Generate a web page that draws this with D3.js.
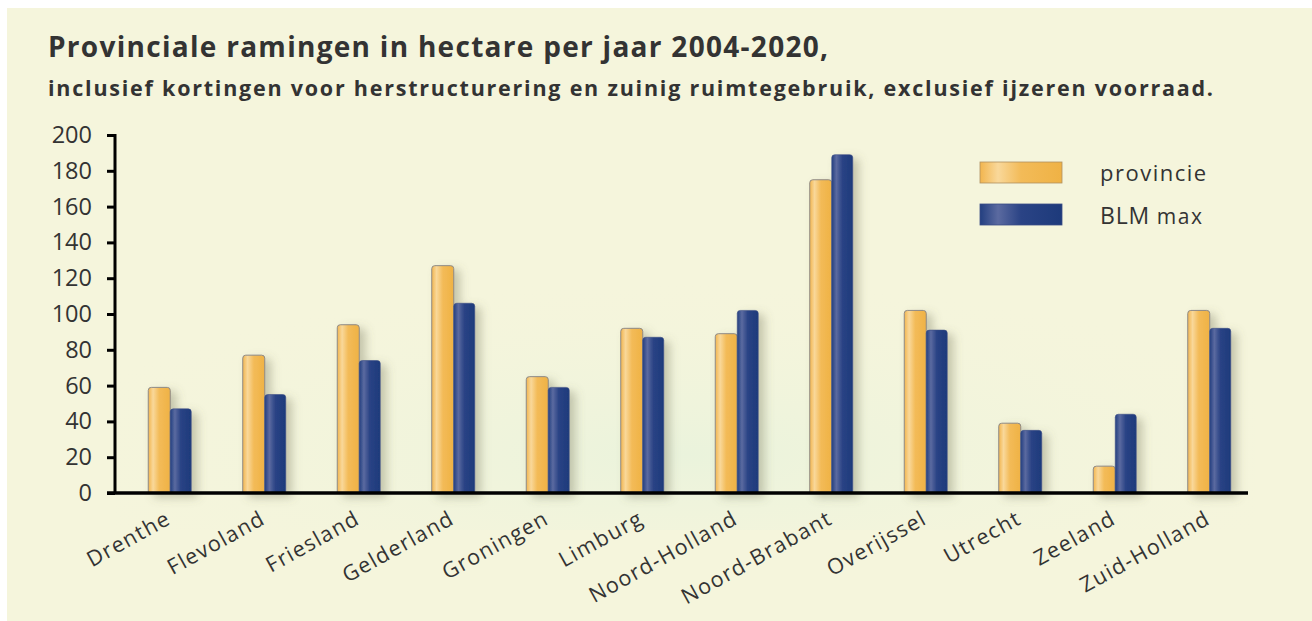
<!DOCTYPE html>
<html>
<head>
<meta charset="utf-8">
<script src="https://cdn.jsdelivr.net/npm/d3@7"></script>
<style>
  html, body { margin: 0; padding: 0; background: #fff; }
  svg { display: block; }
  text { font-family: "Open Sans", "Noto Sans", sans-serif; fill: #333; }
</style>
</head>
<body>
<svg id="chart" width="1312" height="621"></svg>
<script>
// data
const provinces = ["Drenthe", "Flevoland", "Friesland", "Gelderland", "Groningen", "Limburg",
  "Noord-Holland", "Noord-Brabant", "Overijssel", "Utrecht", "Zeeland", "Zuid-Holland"];
const provincie = [59, 77, 94, 127, 65, 92, 89, 175, 102, 39, 15, 102];
const blmMax = [47, 55, 74, 106, 59, 87, 102, 189, 91, 35, 44, 92];
const yTicks = [0, 20, 40, 60, 80, 100, 120, 140, 160, 180, 200];
const seriesNames = ["provincie", "BLM max"];

const svg = d3.select("#chart");
const width = 1312, height = 621;

// background panel
svg.append("rect")
  .attr("x", 7).attr("y", 8)
  .attr("width", width - 7).attr("height", height - 8)
  .attr("fill", "#f5f5dc");

const defs = svg.append("defs");

// faint greenish glow behind the bars
const glow = defs.append("radialGradient").attr("id", "g-glow")
  .attr("cx", "50%").attr("cy", "75%").attr("r", "60%");
glow.append("stop").attr("offset", "0%").attr("stop-color", "#eaf3dc").attr("stop-opacity", 1);
glow.append("stop").attr("offset", "100%").attr("stop-color", "#f5f5dc").attr("stop-opacity", 0);
svg.append("rect")
  .attr("x", 115).attr("y", 230).attr("width", 1140).attr("height", 300)
  .attr("fill", "url(#g-glow)");

// bar gradients: lighter streak on the left, like the original
const gradOrange = defs.append("linearGradient").attr("id", "g-orange");
gradOrange.append("stop").attr("offset", "0%").attr("stop-color", "#f2b54e");
gradOrange.append("stop").attr("offset", "22%").attr("stop-color", "#f9d89a");
gradOrange.append("stop").attr("offset", "50%").attr("stop-color", "#f3bb58");
gradOrange.append("stop").attr("offset", "100%").attr("stop-color", "#efb245");

const gradBlue = defs.append("linearGradient").attr("id", "g-blue");
gradBlue.append("stop").attr("offset", "0%").attr("stop-color", "#233f80");
gradBlue.append("stop").attr("offset", "22%").attr("stop-color", "#5b6aa0");
gradBlue.append("stop").attr("offset", "50%").attr("stop-color", "#2a4385");
gradBlue.append("stop").attr("offset", "100%").attr("stop-color", "#1d3a7b");

const shadow = defs.append("filter").attr("id", "shadow")
  .attr("x", "-50%").attr("y", "-20%").attr("width", "250%").attr("height", "140%");
shadow.append("feDropShadow")
  .attr("dx", 6).attr("dy", 4).attr("stdDeviation", 5)
  .attr("flood-color", "#6b6b50").attr("flood-opacity", 0.35);

// scales
const x = d3.scaleBand().domain(provinces).range([123, 1257]);
const y = d3.scaleLinear().domain([0, 200]).range([493, 135]);

// title
svg.append("text")
  .attr("x", 48).attr("y", 57)
  .attr("font-size", 28).attr("font-weight", 700)
  .attr("textLength", 780).attr("lengthAdjust", "spacing")
  .text("Provinciale ramingen in hectare per jaar 2004-2020,");
svg.append("text")
  .attr("x", 48).attr("y", 96)
  .attr("font-size", 21.5).attr("font-weight", 700)
  .attr("textLength", 1165).attr("lengthAdjust", "spacing")
  .text("inclusief kortingen voor herstructurering en zuinig ruimtegebruik, exclusief ijzeren voorraad.");

// bars
const barW = 21;
const groups = svg.append("g").selectAll("g")
  .data(provinces)
  .join("g")
  .attr("transform", d => `translate(${x(d) + x.bandwidth() / 2},0)`)
  .attr("filter", "url(#shadow)");

function barPath(x0, w, v) {
  const y0 = y(0), y1 = y(v), r = 3;
  return `M${x0},${y0}V${y1 + r}Q${x0},${y1} ${x0 + r},${y1}H${x0 + w - r}Q${x0 + w},${y1} ${x0 + w},${y1 + r}V${y0}Z`;
}

groups.append("path")
  .attr("d", (d, i) => barPath(-barW - 1, barW + 1, provincie[i]))
  .attr("fill", "url(#g-orange)")
  .attr("stroke", "#8e8a86").attr("stroke-width", 1);

groups.append("path")
  .attr("d", (d, i) => barPath(0, barW, blmMax[i]))
  .attr("fill", "url(#g-blue)")
  .attr("stroke", "#3a4d85").attr("stroke-width", 0.6);

// y axis
const yAxis = svg.append("g")
  .attr("transform", "translate(115,0)")
  .call(d3.axisLeft(y).tickValues(yTicks).tickSize(8).tickPadding(15));
yAxis.select(".domain").attr("stroke", "#000").attr("stroke-width", 3)
  .attr("d", `M0,${y(200) - 1}V${y(0)}`);
yAxis.selectAll(".tick line").attr("stroke", "#000").attr("stroke-width", 3);
yAxis.selectAll(".tick text")
  .attr("font-size", 23.5).attr("fill", "#333")
  .attr("font-family", "'Open Sans', sans-serif");

// x axis baseline
svg.append("line")
  .attr("x1", 107).attr("x2", 1248)
  .attr("y1", y(0)).attr("y2", y(0))
  .attr("stroke", "#000").attr("stroke-width", 3.5);

// x labels
svg.append("g").selectAll("text")
  .data(provinces)
  .join("text")
  .attr("text-anchor", "end")
  .attr("font-size", 21.5)
  .attr("letter-spacing", 1.3)
  .attr("transform", d => `translate(${x(d) + x.bandwidth() / 2 + 2},523) rotate(-29)`)
  .text(d => d);

// legend
const legend = svg.append("g").attr("transform", "translate(980,162)");
legend.selectAll("rect")
  .data(seriesNames)
  .join("rect")
  .attr("x", 0).attr("y", (d, i) => i * 42)
  .attr("width", 82).attr("height", 21)
  .attr("fill", (d, i) => i === 0 ? "url(#g-orange)" : "url(#g-blue)")
  .attr("stroke", (d, i) => i === 0 ? "#b09060" : "#3a4d85")
  .attr("stroke-width", 0.8);
legend.append("text")
  .attr("x", 120).attr("y", 19)
  .attr("font-size", 22).attr("letter-spacing", 1.5)
  .text(seriesNames[0]);
const blmText = legend.append("text")
  .attr("x", 120).attr("y", 62)
  .attr("font-size", 23).attr("letter-spacing", 0.8);
blmText.append("tspan").text("BLM ");
blmText.append("tspan").attr("font-size", 21).attr("letter-spacing", 1.6).text("max");
</script>
</body>
</html>
